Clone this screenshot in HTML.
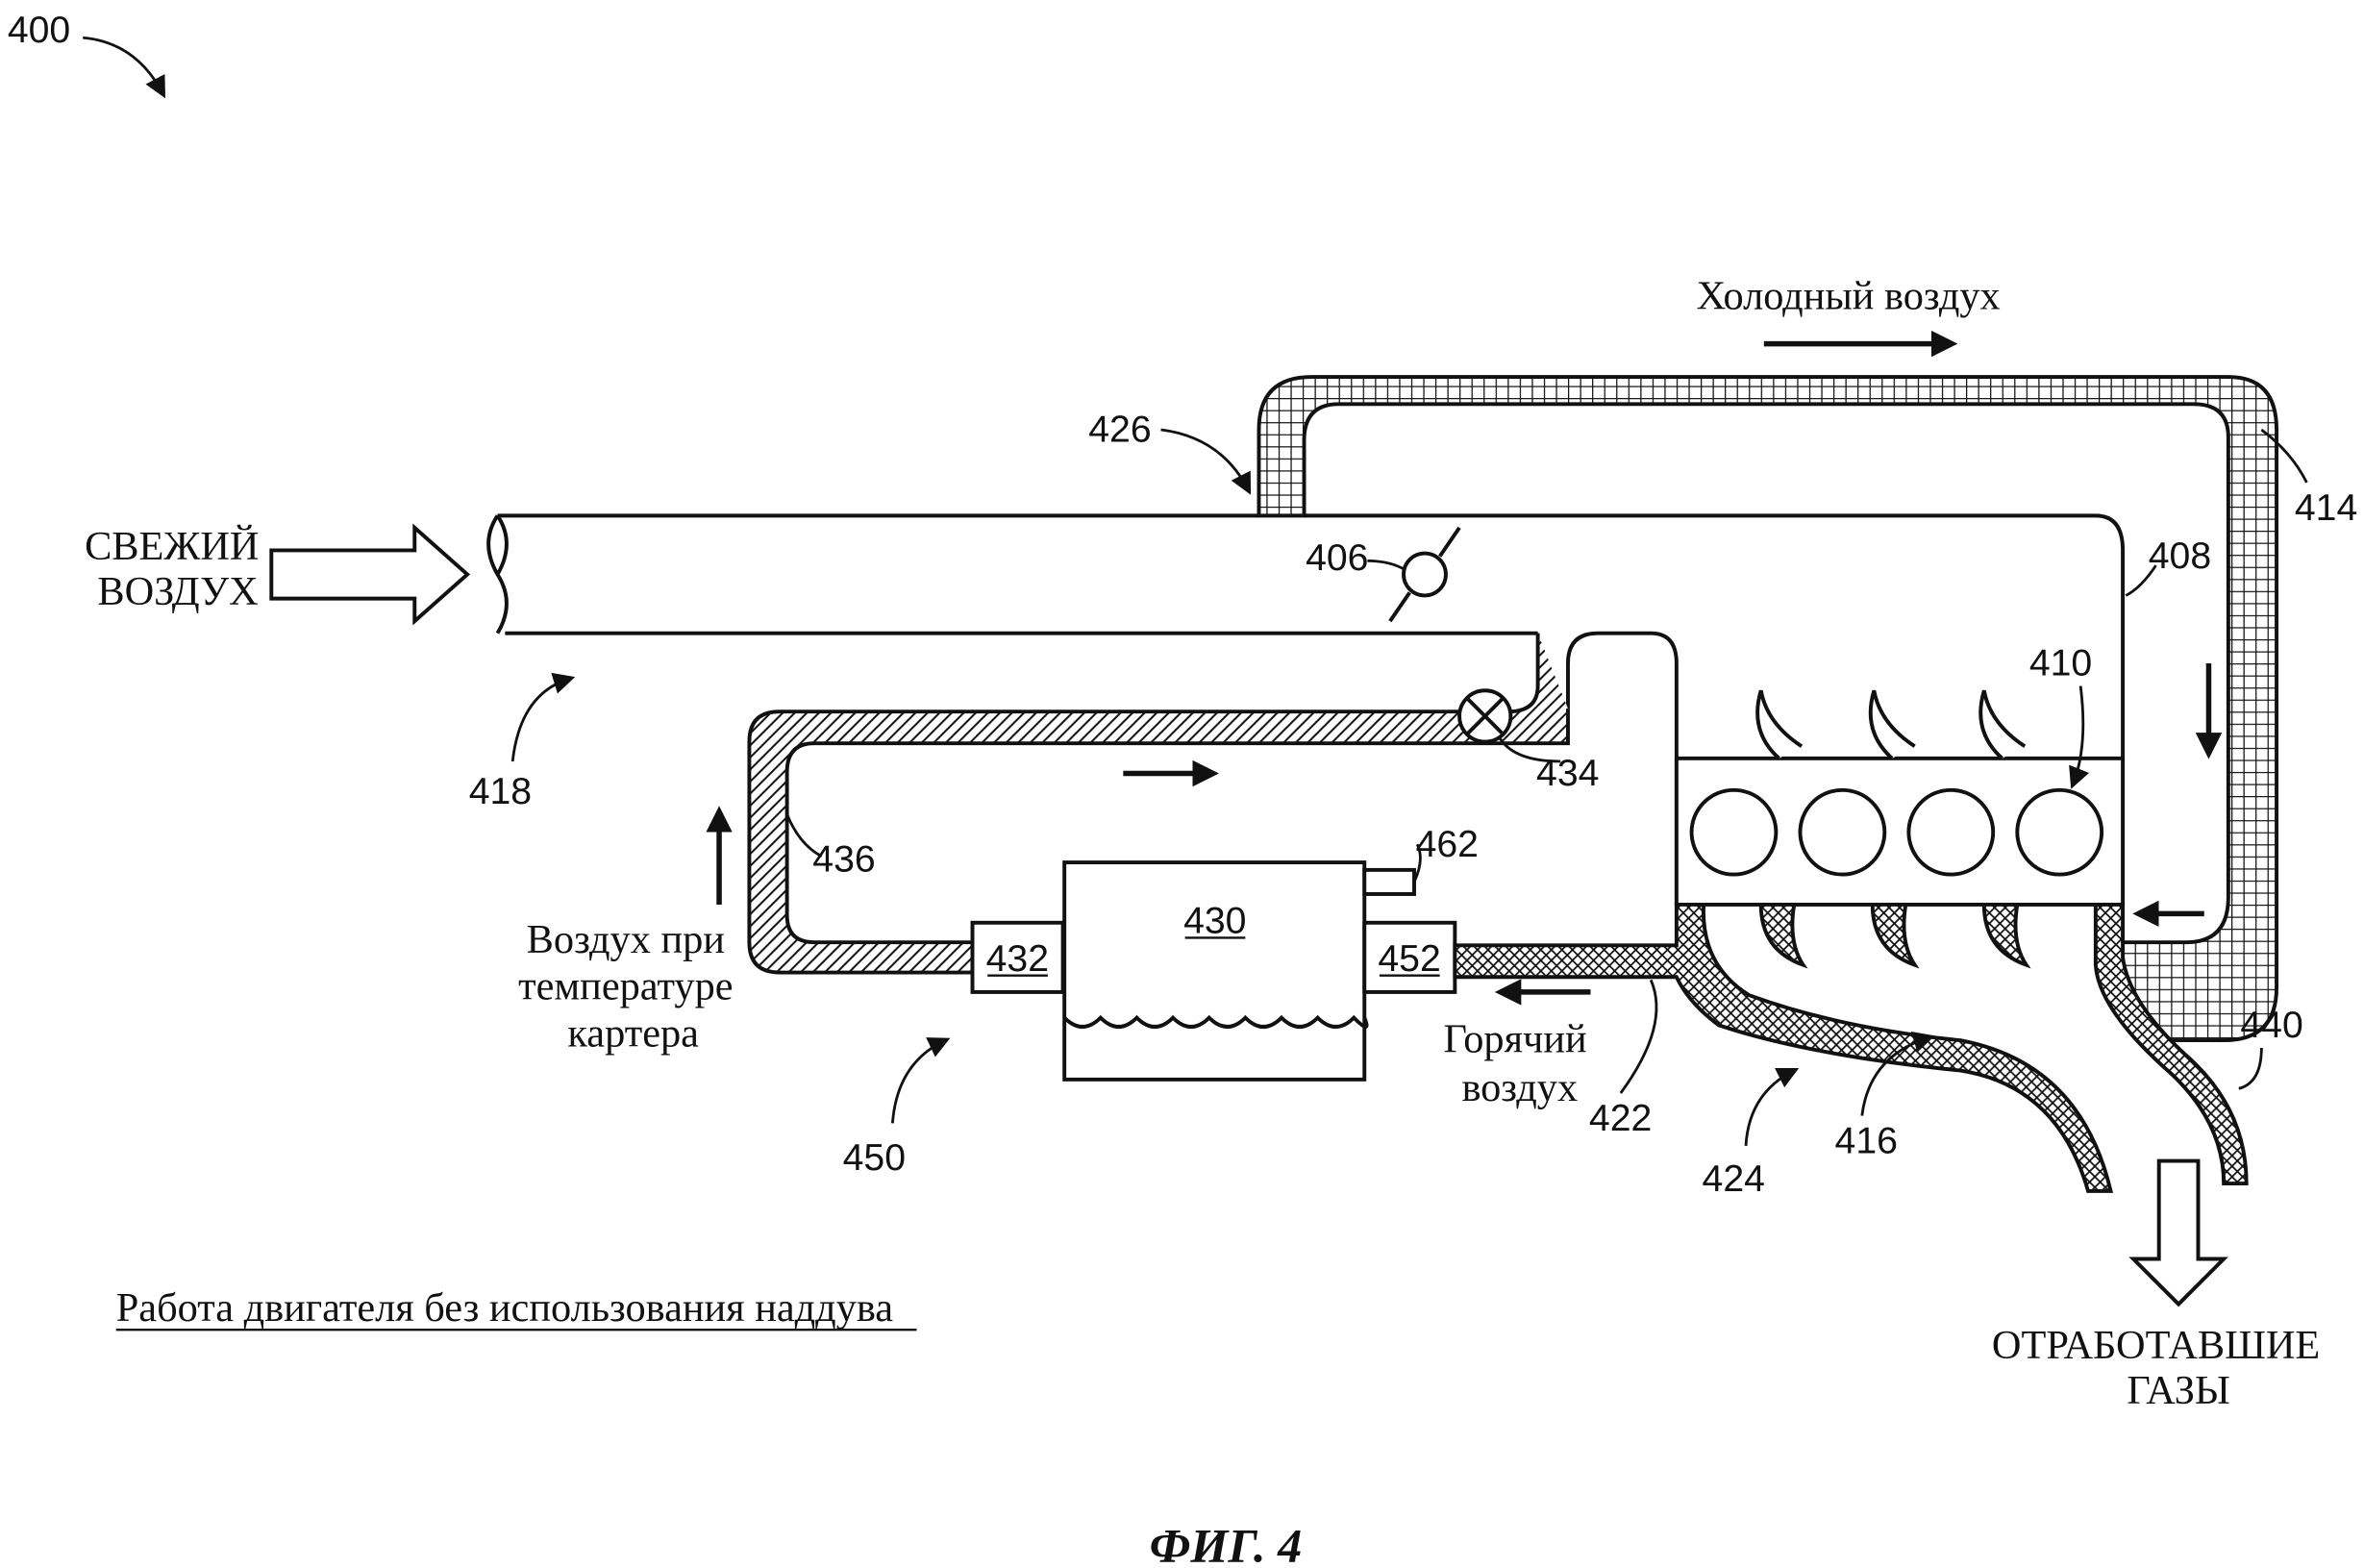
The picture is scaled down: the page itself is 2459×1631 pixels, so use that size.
<!DOCTYPE html>
<html><head><meta charset="utf-8"><style>
html,body{margin:0;padding:0;background:#fff}
svg{display:block}
text{font-family:"Liberation Serif",serif;fill:#111}
.n{font-family:"Liberation Sans",sans-serif;font-size:25px}
.t{font-size:27px}
</style></head><body>
<svg width="2459" height="1631" viewBox="0 0 1568 1040" xmlns="http://www.w3.org/2000/svg">
<defs>
<pattern id="grid" width="8" height="8" patternUnits="userSpaceOnUse"><rect width="8" height="8" fill="#fff"/><path d="M0 0H8M0 0V8" stroke="#111" stroke-width="1.6"/></pattern>
<pattern id="diag" width="8" height="8" patternUnits="userSpaceOnUse"><rect width="8" height="8" fill="#fff"/><path d="M-2 10L10 -2M-2 2L2 -2M6 10L10 6" stroke="#111" stroke-width="1.3"/></pattern>
<pattern id="cross" width="7" height="7" patternUnits="userSpaceOnUse"><rect width="7" height="7" fill="#fff"/><path d="M0 0L7 7M7 0L0 7" stroke="#111" stroke-width="1.1"/></pattern>
<marker id="ah" markerWidth="8" markerHeight="8" refX="6" refY="4" orient="auto" markerUnits="strokeWidth"><path d="M0 0L8 4L0 8Z" fill="#111"/></marker>
<marker id="ah2" markerWidth="5" markerHeight="5" refX="4" refY="2.5" orient="auto" markerUnits="strokeWidth"><path d="M0 0L5 2.5L0 5Z" fill="#111"/></marker>
</defs>
<g stroke="#111" stroke-width="2.5" fill="none">
<path d="M835 342V285Q835 250 870 250H1478Q1510 250 1510 285V655Q1510 690 1475 690H1430L1408 665V625H1450Q1478 625 1478 595V290Q1478 268 1455 268H888Q865 268 865 292V342Z" fill="url(#grid)"/>
<path d="M330 342H835M865 342H1390Q1408 342 1408 365V600" />
<path d="M335 420H1020"/>
<path d="M330 342Q318 360 330 381Q342 400 330 420" />
<path d="M330 342Q342 360 330 381"/>
<path d="M1040 470V440Q1040 420 1060 420H1095Q1112 420 1112 440V600"/>
<path d="M1020 420V455Q1020 472 1000 472H517Q497 472 497 492V625Q497 645 517 645H645V625H540Q522 625 522 607V512Q522 493 540 493H1040V470H1040" fill="url(#diag)"/>
<circle cx="985" cy="475" r="17" fill="#fff"/>
<path d="M973 463L997 487M997 463L973 487"/>
<circle cx="945" cy="381" r="14" fill="#fff"/>
<path d="M922 412L935 393M955 369L968 350"/>
<rect x="1112" y="503" width="296" height="97" fill="#fff"/>
<circle cx="1150" cy="552" r="28"/><circle cx="1222" cy="552" r="28"/><circle cx="1294" cy="552" r="28"/><circle cx="1366" cy="552" r="28"/>
<path d="M1180 503Q1160 485 1168 458Q1172 480 1195 495" fill="#fff"/>
<path d="M1255 503Q1235 485 1243 458Q1247 480 1270 495" fill="#fff"/>
<path d="M1328 503Q1308 485 1316 458Q1320 480 1343 495" fill="#fff"/>
<rect x="645" y="612" width="60" height="46" fill="#fff"/>
<rect x="706" y="572" width="199" height="144" fill="#fff"/>
<path d="M706 675q12 12 24 0q12 12 24 0q12 12 24 0q12 12 24 0q12 12 24 0q12 12 24 0q12 12 24 0q12 12 24 0q12 12 7 0"/>
<rect x="905" y="612" width="60" height="46" fill="#fff"/>
<rect x="905" y="577" width="33" height="16" fill="#fff"/>
<path d="M965 627H1112V600H1130Q1128 640 1160 660Q1220 682 1300 690Q1380 705 1400 790L1385 790Q1365 720 1300 710Q1200 700 1140 680Q1120 665 1112 648H965Z" fill="url(#cross)"/>
<path d="M1390 600H1408V635Q1412 665 1450 700Q1490 735 1490 785H1475Q1475 745 1440 712Q1392 670 1390 640Z" fill="url(#cross)"/>
<path d="M1168 600Q1168 630 1196 640Q1186 625 1190 600Z M1242 600Q1242 630 1270 640Q1260 625 1264 600Z M1316 600Q1316 630 1344 640Q1334 625 1338 600Z" fill="url(#cross)"/>
<path d="M180 365H275V350L310 381L275 412V397H180Z" fill="#fff"/>
<path d="M1432 770H1458V835H1475L1445 865L1415 835H1432Z" fill="#fff"/>
<path d="M1170 228H1295" stroke-width="3.5" marker-end="url(#ah2)"/>
<path d="M745 513H805" stroke-width="3.5" marker-end="url(#ah2)"/>
<path d="M477 600V538" stroke-width="3.5" marker-end="url(#ah2)"/>
<path d="M1465 440V500" stroke-width="3.5" marker-end="url(#ah2)"/>
<path d="M1462 606H1418" stroke-width="3.5" marker-end="url(#ah2)"/>
<path d="M1055 658H995" stroke-width="3.5" marker-end="url(#ah2)"/>
<g stroke-width="1.8">
<path d="M55 25Q90 28 108 62" marker-end="url(#ah)"/>
<path d="M770 285Q810 290 828 325" marker-end="url(#ah)"/>
<path d="M1500 285Q1520 300 1530 320"/>
<path d="M1430 375Q1420 390 1410 395"/>
<path d="M907 372Q922 372 932 378"/>
<path d="M1380 455Q1385 495 1375 520" marker-end="url(#ah)"/>
<path d="M1035 505Q1005 505 995 490"/>
<path d="M545 568Q530 560 522 540"/>
<path d="M938 585Q945 570 940 560"/>
<path d="M340 505Q345 460 378 450" marker-end="url(#ah)"/>
<path d="M592 745Q595 705 627 690" marker-end="url(#ah)"/>
<path d="M1075 725Q1108 680 1095 650"/>
<path d="M1158 760Q1160 725 1190 710" marker-end="url(#ah)"/>
<path d="M1235 740Q1240 700 1280 688" marker-end="url(#ah)"/>
<path d="M1500 695Q1500 718 1485 722"/>
</g>
<path d="M77 882H608" stroke-width="1.5"/>
</g>
<g stroke="#111" stroke-width="1.5"><path d="M786 622H826M655 647H695M915 647H955"/></g>
<text class="n" x="5" y="28">400</text>
<text class="t" x="114" y="371" text-anchor="middle">СВЕЖИЙ</text>
<text class="t" x="118" y="401" text-anchor="middle">ВОЗДУХ</text>
<text class="t" x="1226" y="205" text-anchor="middle">Холодный воздух</text>
<text class="n" x="722" y="293">426</text>
<text class="n" x="1522" y="345">414</text>
<text class="n" x="1425" y="377">408</text>
<text class="n" x="866" y="378">406</text>
<text class="n" x="1346" y="448">410</text>
<text class="n" x="1019" y="521">434</text>
<text class="n" x="539" y="578">436</text>
<text class="n" x="939" y="568">462</text>
<text class="n" x="785" y="619">430</text>
<text class="n" x="654" y="644">432</text>
<text class="n" x="914" y="644">452</text>
<text class="n" x="311" y="533">418</text>
<text class="n" x="559" y="776">450</text>
<text class="n" x="1054" y="750">422</text>
<text class="n" x="1129" y="790">424</text>
<text class="n" x="1217" y="765">416</text>
<text class="n" x="1486" y="688">440</text>
<text class="t" x="415" y="632" text-anchor="middle">Воздух при</text>
<text class="t" x="415" y="663" text-anchor="middle">температуре</text>
<text class="t" x="420" y="694" text-anchor="middle">картера</text>
<text class="t" x="1005" y="698" text-anchor="middle">Горячий</text>
<text class="t" x="1008" y="730" text-anchor="middle">воздух</text>
<text class="t" x="77" y="876">Работа двигателя без использования наддува</text>
<text class="t" x="1430" y="901" text-anchor="middle">ОТРАБОТАВШИЕ</text>
<text class="t" x="1445" y="931" text-anchor="middle">ГАЗЫ</text>
<text x="813" y="1036" text-anchor="middle" font-size="32" font-weight="bold" font-style="italic">ФИГ. 4</text>
</svg>
</body></html>
